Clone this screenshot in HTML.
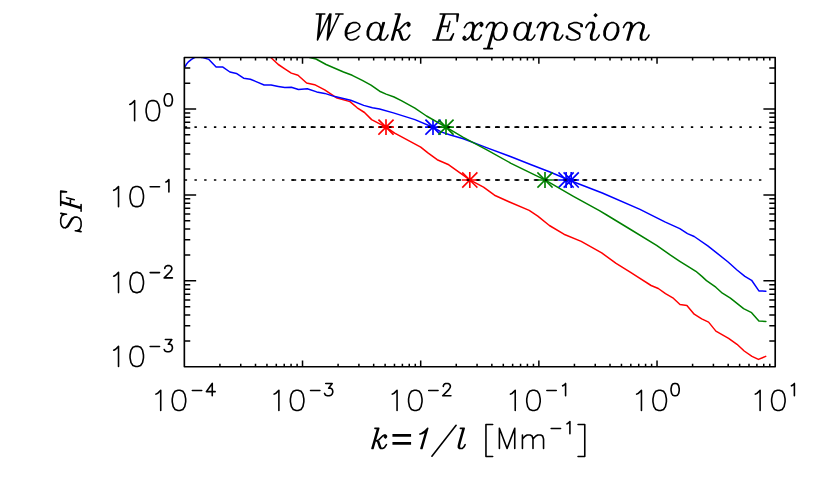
<!DOCTYPE html>
<html><head><meta charset="utf-8"><title>Weak Expansion</title>
<style>html,body{margin:0;padding:0;background:#fff;font-family:"Liberation Sans",sans-serif}svg{display:block}</style></head>
<body>
<svg width="830" height="484" viewBox="0 0 830 484">
<rect width="830" height="484" fill="#fff"/>
<defs><clipPath id="c"><rect x="184.35" y="57.45" width="590.85" height="309.3"/></clipPath></defs>
<path d="M291.3 127.15h4.9M301 127.15h4.9M310.7 127.15h4.9M320.4 127.15h4.9M330.1 127.15h4.9M339.8 127.15h4.9M349.5 127.15h4.9M359.2 127.15h4.9M368.9 127.15h4.9M378.6 127.15h4.9M388.3 127.15h4.9M398 127.15h4.9M407.7 127.15h4.9M417.4 127.15h4.9M427.1 127.15h4.9M436.8 127.15h4.9M446.5 127.15h4.9M456.2 127.15h4.9M465.9 127.15h4.9M475.6 127.15h4.9M485.3 127.15h4.9M495 127.15h4.9M504.7 127.15h4.9M514.4 127.15h4.9M524.1 127.15h4.9M533.8 127.15h4.9M543.5 127.15h4.9M553.2 127.15h4.9M562.9 127.15h4.9M572.6 127.15h4.9M582.3 127.15h4.9M592 127.15h4.9M601.7 127.15h4.9M611.4 127.15h4.9M621.1 127.15h4.9M291.3 180h4.9M301 180h4.9M310.7 180h4.9M320.4 180h4.9M330.1 180h4.9M339.8 180h4.9M349.5 180h4.9M359.2 180h4.9M368.9 180h4.9M378.6 180h4.9M388.3 180h4.9M398 180h4.9M407.7 180h4.9M417.4 180h4.9M427.1 180h4.9M436.8 180h4.9M446.5 180h4.9M456.2 180h4.9M465.9 180h4.9M475.6 180h4.9M485.3 180h4.9M495 180h4.9M504.7 180h4.9M514.4 180h4.9M524.1 180h4.9M533.8 180h4.9M543.5 180h4.9M553.2 180h4.9M562.9 180h4.9M572.6 180h4.9M582.3 180h4.9M592 180h4.9M601.7 180h4.9M611.4 180h4.9M621.1 180h4.9" fill="none" stroke="#000" stroke-width="1.6"/>
<polyline clip-path="url(#c)" fill="none" stroke="#ff0000" stroke-width="1.5" stroke-linejoin="round" stroke-linecap="round" points="270.8,57.5 278.3,64.5 284.8,68.8 291.3,73.1 298,75.3 306.6,83 314.6,84.7 324.7,89.8 336.3,97.7 350,101.6 357.2,107.8 364.5,112.5 371.6,119.6 386,127.2 394.7,133.1 420.7,147.1 427.9,152.9 437.2,159.7 448.8,164.8 469.8,179.9 483.5,187.2 494.5,195.2 508.9,201.7 529.2,210.4 537.8,216.1 549.4,225.5 563.9,234.2 581.2,241.4 601.7,252.9 616.1,263.4 630.6,272.3 637.2,276.6 651.1,285.5 658.3,288.5 665.5,293.7 672.8,297.8 680,304.5 686.9,305.4 694.2,314.2 701.7,318.9 708.6,322.1 715.9,331.1 728.6,338.3 737,344.3 744.2,351 752,356.4 758.4,359.4 765.7,356.4"/>
<path d="M386 120.05V134.25M378.9 127.15H393.1M379 120.15L393 134.15M379 134.15L393 120.15" fill="none" stroke="#ff0000" stroke-width="1.65" stroke-linecap="square"/>
<path d="M469.8 172.9V187.1M462.7 180H476.9M462.8 173L476.8 187M462.8 187L476.8 173" fill="none" stroke="#ff0000" stroke-width="1.65" stroke-linecap="square"/>
<polyline clip-path="url(#c)" fill="none" stroke="#0000ff" stroke-width="1.5" stroke-linejoin="round" stroke-linecap="round" points="184.8,67.1 186.6,64 188.7,61.6 191.5,59.3 194.5,57.6 198,56.6 201.7,57.4 208.9,59.4 216.1,66.9 222.9,67.1 229.9,72 236.4,73.4 243.6,78.2 250.4,79.2 257.3,82.1 264.1,85 271.1,85 278.3,86.4 284.8,87.6 291.3,87.3 298.5,89.5 307.3,88.7 316.7,91.9 324.7,93.4 334.8,96.6 350.7,100.2 363.7,105.4 372.4,107.8 379.6,109 393.4,112.9 414.9,119.6 433,127.2 441,131.9 449.6,134.8 463.3,138.7 487.8,148.1 511,156.8 531.2,164.8 550,172 568.7,180 602.3,193 640,209.4 651.9,215.3 665.4,222.1 679.8,228.6 687.5,233.6 694.2,236.5 707.8,245.8 728.1,262 737,270 744.9,276.4 751.6,280.3 758.9,290.9 765.9,291.2"/>
<path d="M433 120.05V134.25M425.9 127.15H440.1M426 120.15L440 134.15M426 134.15L440 120.15" fill="none" stroke="#0000ff" stroke-width="1.65" stroke-linecap="square"/>
<path d="M566.1 172.9V187.1M559 180H573.2M559.1 173L573.1 187M559.1 187L573.1 173" fill="none" stroke="#0000ff" stroke-width="1.65" stroke-linecap="square"/>
<path d="M571.2 172.9V187.1M564.1 180H578.3M564.2 173L578.2 187M564.2 187L578.2 173" fill="none" stroke="#0000ff" stroke-width="1.65" stroke-linecap="square"/>
<polyline clip-path="url(#c)" fill="none" stroke="#008000" stroke-width="1.5" stroke-linejoin="round" stroke-linecap="round" points="309.5,57.5 316,59 326.1,64.5 343.5,72 352.2,75.3 362.3,80.4 371,85.1 379.6,91.2 386.1,94.1 394.1,97 401.3,100.6 414.9,108.1 426.5,116 446,127.2 463.3,137.4 486.4,149.6 511,163.3 544.9,179.9 573.4,196.3 599.4,210.7 606.7,215 630.6,229.5 656.6,245.4 670.5,255.2 679.8,261.3 687.5,266.2 695.9,271.3 701.9,276.4 706.5,280.6 715.8,287.2 722.4,293.2 730.4,298.1 743.6,308.7 751.6,312.7 758.9,321 765.9,321.5"/>
<path d="M446 120.05V134.25M438.9 127.15H453.1M439 120.15L453 134.15M439 134.15L453 120.15" fill="none" stroke="#008000" stroke-width="1.65" stroke-linecap="square"/>
<path d="M545 172.9V187.1M537.9 180H552.1M538 173L552 187M538 187L552 173" fill="none" stroke="#008000" stroke-width="1.65" stroke-linecap="square"/>
<path d="M184.7 127.15h2.4M194.43 127.15h2.4M204.17 127.15h2.4M213.9 127.15h2.4M223.63 127.15h2.4M233.37 127.15h2.4M243.1 127.15h2.4M252.83 127.15h2.4M262.56 127.15h2.4M272.3 127.15h2.4M282.03 127.15h2.4M291.76 127.15h2.4M301.5 127.15h2.4M311.23 127.15h2.4M320.96 127.15h2.4M330.69 127.15h2.4M340.43 127.15h2.4M350.16 127.15h2.4M359.89 127.15h2.4M369.63 127.15h2.4M379.36 127.15h2.4M389.09 127.15h2.4M398.83 127.15h2.4M408.56 127.15h2.4M418.29 127.15h2.4M428.03 127.15h2.4M437.76 127.15h2.4M447.49 127.15h2.4M457.22 127.15h2.4M466.96 127.15h2.4M476.69 127.15h2.4M486.42 127.15h2.4M496.16 127.15h2.4M505.89 127.15h2.4M515.62 127.15h2.4M525.36 127.15h2.4M535.09 127.15h2.4M544.82 127.15h2.4M554.55 127.15h2.4M564.29 127.15h2.4M574.02 127.15h2.4M583.75 127.15h2.4M593.49 127.15h2.4M603.22 127.15h2.4M612.95 127.15h2.4M622.68 127.15h2.4M632.42 127.15h2.4M642.15 127.15h2.4M651.88 127.15h2.4M661.62 127.15h2.4M671.35 127.15h2.4M681.08 127.15h2.4M690.82 127.15h2.4M700.55 127.15h2.4M710.28 127.15h2.4M720.01 127.15h2.4M729.75 127.15h2.4M739.48 127.15h2.4M749.21 127.15h2.4M758.95 127.15h2.4M184.7 180h2.4M194.43 180h2.4M204.17 180h2.4M213.9 180h2.4M223.63 180h2.4M233.37 180h2.4M243.1 180h2.4M252.83 180h2.4M262.56 180h2.4M272.3 180h2.4M282.03 180h2.4M291.76 180h2.4M301.5 180h2.4M311.23 180h2.4M320.96 180h2.4M330.69 180h2.4M340.43 180h2.4M350.16 180h2.4M359.89 180h2.4M369.63 180h2.4M379.36 180h2.4M389.09 180h2.4M398.83 180h2.4M408.56 180h2.4M418.29 180h2.4M428.03 180h2.4M437.76 180h2.4M447.49 180h2.4M457.22 180h2.4M466.96 180h2.4M476.69 180h2.4M486.42 180h2.4M496.16 180h2.4M505.89 180h2.4M515.62 180h2.4M525.36 180h2.4M535.09 180h2.4M544.82 180h2.4M554.55 180h2.4M564.29 180h2.4M574.02 180h2.4M583.75 180h2.4M593.49 180h2.4M603.22 180h2.4M612.95 180h2.4M622.68 180h2.4M632.42 180h2.4M642.15 180h2.4M651.88 180h2.4M661.62 180h2.4M671.35 180h2.4M681.08 180h2.4M690.82 180h2.4M700.55 180h2.4M710.28 180h2.4M720.01 180h2.4M729.75 180h2.4M739.48 180h2.4M749.21 180h2.4M758.95 180h2.4" fill="none" stroke="#000" stroke-width="1.6"/>
<rect x="184.35" y="57.45" width="590.85" height="309.3" fill="none" stroke="#000" stroke-width="1.65" stroke-linejoin="round"/>
<path d="M219.92 366.75v-3.1M219.92 57.45v3.1M240.73 366.75v-3.1M240.73 57.45v3.1M255.5 366.75v-3.1M255.5 57.45v3.1M266.95 366.75v-3.1M266.95 57.45v3.1M276.3 366.75v-3.1M276.3 57.45v3.1M284.22 366.75v-3.1M284.22 57.45v3.1M291.07 366.75v-3.1M291.07 57.45v3.1M297.11 366.75v-3.1M297.11 57.45v3.1M302.52 366.75v-6.2M302.52 57.45v6.2M338.09 366.75v-3.1M338.09 57.45v3.1M358.9 366.75v-3.1M358.9 57.45v3.1M373.67 366.75v-3.1M373.67 57.45v3.1M385.12 366.75v-3.1M385.12 57.45v3.1M394.47 366.75v-3.1M394.47 57.45v3.1M402.39 366.75v-3.1M402.39 57.45v3.1M409.24 366.75v-3.1M409.24 57.45v3.1M415.28 366.75v-3.1M415.28 57.45v3.1M420.69 366.75v-6.2M420.69 57.45v6.2M456.26 366.75v-3.1M456.26 57.45v3.1M477.07 366.75v-3.1M477.07 57.45v3.1M491.84 366.75v-3.1M491.84 57.45v3.1M503.29 366.75v-3.1M503.29 57.45v3.1M512.64 366.75v-3.1M512.64 57.45v3.1M520.56 366.75v-3.1M520.56 57.45v3.1M527.41 366.75v-3.1M527.41 57.45v3.1M533.45 366.75v-3.1M533.45 57.45v3.1M538.86 366.75v-6.2M538.86 57.45v6.2M574.43 366.75v-3.1M574.43 57.45v3.1M595.24 366.75v-3.1M595.24 57.45v3.1M610.01 366.75v-3.1M610.01 57.45v3.1M621.46 366.75v-3.1M621.46 57.45v3.1M630.81 366.75v-3.1M630.81 57.45v3.1M638.73 366.75v-3.1M638.73 57.45v3.1M645.58 366.75v-3.1M645.58 57.45v3.1M651.62 366.75v-3.1M651.62 57.45v3.1M657.03 366.75v-6.2M657.03 57.45v6.2M692.6 366.75v-3.1M692.6 57.45v3.1M713.41 366.75v-3.1M713.41 57.45v3.1M728.18 366.75v-3.1M728.18 57.45v3.1M739.63 366.75v-3.1M739.63 57.45v3.1M748.98 366.75v-3.1M748.98 57.45v3.1M756.9 366.75v-3.1M756.9 57.45v3.1M763.75 366.75v-3.1M763.75 57.45v3.1M769.79 366.75v-3.1M769.79 57.45v3.1M184.35 340.89h5.9M775.2 340.89h-5.9M184.35 325.76h5.9M775.2 325.76h-5.9M184.35 315.02h5.9M775.2 315.02h-5.9M184.35 306.69h5.9M775.2 306.69h-5.9M184.35 299.89h5.9M775.2 299.89h-5.9M184.35 294.14h5.9M775.2 294.14h-5.9M184.35 289.16h5.9M775.2 289.16h-5.9M184.35 284.76h5.9M775.2 284.76h-5.9M184.35 280.83h11.8M775.2 280.83h-11.8M184.35 254.97h5.9M775.2 254.97h-5.9M184.35 239.84h5.9M775.2 239.84h-5.9M184.35 229.1h5.9M775.2 229.1h-5.9M184.35 220.77h5.9M775.2 220.77h-5.9M184.35 213.97h5.9M775.2 213.97h-5.9M184.35 208.22h5.9M775.2 208.22h-5.9M184.35 203.24h5.9M775.2 203.24h-5.9M184.35 198.84h5.9M775.2 198.84h-5.9M184.35 194.91h11.8M775.2 194.91h-11.8M184.35 169.05h5.9M775.2 169.05h-5.9M184.35 153.92h5.9M775.2 153.92h-5.9M184.35 143.18h5.9M775.2 143.18h-5.9M184.35 134.85h5.9M775.2 134.85h-5.9M184.35 128.05h5.9M775.2 128.05h-5.9M184.35 122.3h5.9M775.2 122.3h-5.9M184.35 117.32h5.9M775.2 117.32h-5.9M184.35 112.92h5.9M775.2 112.92h-5.9M184.35 108.99h11.8M775.2 108.99h-11.8M184.35 83.13h5.9M775.2 83.13h-5.9M184.35 68h5.9M775.2 68h-5.9" fill="none" stroke="#000" stroke-width="1.5"/>
<path d="M129.81 104.42 131.73 103.46 134.61 100.58 134.61 120.74M151.89 100.58 149.01 101.54 147.09 104.42 146.13 109.22 146.13 112.1 147.09 116.9 149.01 119.78 151.89 120.74 153.81 120.74 156.69 119.78 158.61 116.9 159.57 112.1 159.57 109.22 158.61 104.42 156.69 101.54 153.81 100.58 151.89 100.58M167.71 93.76 165.96 94.34 164.79 96.09 164.2 99.02 164.2 100.78 164.79 103.7 165.96 105.46 167.71 106.04 168.88 106.04 170.64 105.46 171.81 103.7 172.39 100.78 172.39 99.02 171.81 96.09 170.64 94.34 168.88 93.76 167.71 93.76M113.72 190.34 115.64 189.38 118.52 186.5 118.52 206.66M135.8 186.5 132.92 187.46 131 190.34 130.04 195.14 130.04 198.02 131 202.82 132.92 205.7 135.8 206.66 137.72 206.66 140.6 205.7 142.52 202.82 143.48 198.02 143.48 195.14 142.52 190.34 140.6 187.46 137.72 186.5 135.8 186.5M150.17 186.7 159.53 186.7M165.96 182.02 167.13 181.43 168.89 179.68 168.89 191.96M113.72 276.26 115.64 275.3 118.52 272.42 118.52 292.58M135.8 272.42 132.92 273.38 131 276.26 130.04 281.06 130.04 283.94 131 288.74 132.92 291.62 135.8 292.58 137.72 292.58 140.6 291.62 142.52 288.74 143.48 283.94 143.48 281.06 142.52 276.26 140.6 273.38 137.72 272.42 135.8 272.42M150.17 272.62 159.53 272.62M164.79 268.52 164.79 267.94 165.38 266.76 165.96 266.18 167.13 265.59 169.47 265.59 170.64 266.18 171.23 266.76 171.81 267.94 171.81 269.11 171.23 270.27 170.06 272.03 164.21 277.88 172.4 277.88M113.72 350.18 115.64 349.22 118.52 346.34 118.52 366.5M135.8 346.34 132.92 347.3 131 350.18 130.04 354.98 130.04 357.86 131 362.66 132.92 365.54 135.8 366.5 137.72 366.5 140.6 365.54 142.52 362.66 143.48 357.86 143.48 354.98 142.52 350.18 140.6 347.3 137.72 346.34 135.8 346.34M150.17 346.54 159.53 346.54M165.38 339.51 171.81 339.51 168.3 344.19 170.06 344.19 171.23 344.78 171.81 345.37 172.4 347.12 172.4 348.29 171.81 350.05 170.64 351.22 168.89 351.8 167.13 351.8 165.38 351.22 164.79 350.63 164.21 349.46M155.92 394.13 157.84 393.17 160.72 390.29 160.72 410.45M178 390.29 175.12 391.25 173.2 394.13 172.24 398.93 172.24 401.81 173.2 406.61 175.12 409.49 178 410.45 179.92 410.45 182.8 409.49 184.72 406.61 185.68 401.81 185.68 398.93 184.72 394.13 182.8 391.25 179.92 390.29 178 390.29M192.36 390.49 201.72 390.49M212.25 383.46 206.4 391.65 215.17 391.65M212.25 383.46 212.25 395.75M274.09 394.13 276.01 393.17 278.89 390.29 278.89 410.45M296.17 390.29 293.29 391.25 291.37 394.13 290.41 398.93 290.41 401.81 291.37 406.61 293.29 409.49 296.17 410.45 298.09 410.45 300.97 409.49 302.89 406.61 303.85 401.81 303.85 398.93 302.89 394.13 300.97 391.25 298.09 390.29 296.17 390.29M310.53 390.49 319.89 390.49M325.74 383.46 332.17 383.46 328.66 388.14 330.42 388.14 331.59 388.73 332.17 389.31 332.76 391.07 332.76 392.24 332.17 394 331 395.17 329.25 395.75 327.49 395.75 325.74 395.17 325.15 394.58 324.57 393.41M392.26 394.13 394.18 393.17 397.06 390.29 397.06 410.45M414.34 390.29 411.46 391.25 409.54 394.13 408.58 398.93 408.58 401.81 409.54 406.61 411.46 409.49 414.34 410.45 416.26 410.45 419.14 409.49 421.06 406.61 422.02 401.81 422.02 398.93 421.06 394.13 419.14 391.25 416.26 390.29 414.34 390.29M428.7 390.49 438.06 390.49M443.32 386.39 443.32 385.81 443.91 384.63 444.49 384.05 445.66 383.46 448 383.46 449.17 384.05 449.76 384.63 450.34 385.81 450.34 386.98 449.76 388.14 448.59 389.9 442.74 395.75 450.93 395.75M510.43 394.13 512.35 393.17 515.23 390.29 515.23 410.45M532.51 390.29 529.63 391.25 527.71 394.13 526.75 398.93 526.75 401.81 527.71 406.61 529.63 409.49 532.51 410.45 534.43 410.45 537.31 409.49 539.23 406.61 540.19 401.81 540.19 398.93 539.23 394.13 537.31 391.25 534.43 390.29 532.51 390.29M546.87 390.49 556.23 390.49M562.66 385.81 563.83 385.22 565.59 383.46 565.59 395.75M636.64 394.13 638.56 393.17 641.44 390.29 641.44 410.45M658.72 390.29 655.84 391.25 653.92 394.13 652.96 398.93 652.96 401.81 653.92 406.61 655.84 409.49 658.72 410.45 660.64 410.45 663.52 409.49 665.44 406.61 666.4 401.81 666.4 398.93 665.44 394.13 663.52 391.25 660.64 390.29 658.72 390.29M674.55 383.46 672.79 384.05 671.62 385.81 671.04 388.73 671.04 390.49 671.62 393.41 672.79 395.17 674.55 395.75 675.72 395.75 677.47 395.17 678.64 393.41 679.23 390.49 679.23 388.73 678.64 385.81 677.47 384.05 675.72 383.46 674.55 383.46M755.31 394.13 757.23 393.17 760.11 390.29 760.11 410.45M777.39 390.29 774.51 391.25 772.59 394.13 771.63 398.93 771.63 401.81 772.59 406.61 774.51 409.49 777.39 410.45 779.31 410.45 782.19 409.49 784.11 406.61 785.07 401.81 785.07 398.93 784.11 394.13 782.19 391.25 779.31 390.29 777.39 390.29M791.46 385.81 792.63 385.22 794.39 383.46 794.39 395.75M377.77 428.34 372.01 448.5M378.73 428.34 372.97 448.5M385.45 436.02 384.49 436.98 385.45 437.94 386.41 436.98 386.41 436.02 385.45 435.06 384.49 435.06 382.57 436.02 378.73 439.86 376.81 440.82 374.89 440.82M376.81 440.82 378.73 441.78 380.65 447.54 381.61 448.5M376.81 440.82 377.77 441.78 379.69 447.54 380.65 448.5 382.57 448.5 384.49 447.54 386.41 444.66M374.89 428.34 378.73 428.34M425.77 432.18 420.97 448.5M427.69 428.34 421.93 448.5M427.69 428.34 424.81 431.22 421.93 433.14 420.01 434.1M426.73 431.22 422.89 433.14 420.01 434.1M456.1 425.27 431.91 456.18M463.21 428.34 459.37 441.78 458.41 445.62 458.41 447.54 459.37 448.5 462.25 448.5 464.17 446.58 465.13 444.66M464.17 428.34 460.33 441.78 459.37 445.62 459.37 447.54 460.33 448.5M460.33 428.34 464.17 428.34M492.67 424.5 485.95 424.5 485.95 456.47 492.67 456.47M499.39 428.34 499.39 448.5M499.39 428.34 507.07 448.5M514.75 428.34 507.07 448.5M514.75 428.34 514.75 448.5M522.43 435.06 522.43 448.5M522.43 438.9 525.31 436.02 527.23 435.06 530.11 435.06 532.03 436.02 532.99 438.9 532.99 448.5M532.99 438.9 535.87 436.02 537.79 435.06 540.67 435.06 542.59 436.02 543.55 438.9 543.55 448.5M551.19 428.54 560.55 428.54M566.98 423.86 568.15 423.27 569.91 421.51 569.91 433.8M578.05 424.5 584.77 424.5 584.77 456.47 578.05 456.47" fill="none" stroke="#000" stroke-width="1.6" stroke-linecap="round" stroke-linejoin="round"/>
<path d="M392.45 435.44H411.08M392.45 443.32H411.08" fill="none" stroke="#000" stroke-width="2.8"/>
<path d="M319.95 14 317.52 40M321.17 14 318.74 37.52M329.66 14 317.52 40M329.66 14 327.24 40M330.88 14 328.45 37.52M339.38 14 327.24 40M316.31 14 324.81 14M335.73 14 343.02 14M346.66 33.81 351.52 32.57 355.16 31.33 358.8 28.86 360.01 26.38 358.8 23.9 356.37 22.66 352.73 22.66 349.09 23.9 346.66 27.62 345.45 31.33 345.45 35.05 346.66 37.52 347.87 38.76 350.3 40 352.73 40 356.37 38.76 358.8 36.29M352.73 22.66 350.3 23.9 347.87 27.62 346.66 31.33 346.66 36.29 347.87 38.76M383.08 22.66 380.65 31.33 379.44 36.29 379.44 38.76 380.65 40 384.29 40 386.72 37.52 387.94 35.05M384.29 22.66 381.87 31.33 380.65 36.29 380.65 38.76 381.87 40M380.65 31.33 380.65 27.62 379.44 23.9 377.01 22.66 374.58 22.66 370.94 23.9 368.51 27.62 367.3 31.33 367.3 35.05 368.51 37.52 369.73 38.76 372.15 40 374.58 40 377.01 38.76 379.44 35.05 380.65 31.33M374.58 22.66 372.15 23.9 369.73 27.62 368.51 31.33 368.51 36.29 369.73 38.76M398.86 14 391.58 40M400.08 14 392.79 40M408.57 23.9 407.36 25.14 408.57 26.38 409.79 25.14 409.79 23.9 408.57 22.66 407.36 22.66 404.93 23.9 400.08 28.86 397.65 30.09 395.22 30.09M397.65 30.09 400.08 31.33 402.5 38.76 403.72 40M397.65 30.09 398.86 31.33 401.29 38.76 402.5 40 404.93 40 407.36 38.76 409.79 35.05M395.22 14 400.08 14M443.78 14 436.5 40M444.99 14 437.71 40M449.85 21.43 447.42 31.33M440.14 14 458.35 14 457.13 21.43 457.13 14M441.35 26.38 448.64 26.38M432.85 40 451.06 40 453.49 33.81 449.85 40M464.42 27.62 466.85 23.9 469.27 22.66 472.92 22.66 474.13 25.14 474.13 28.86M471.7 22.66 472.92 25.14 472.92 28.86 471.7 33.81 470.49 36.29 468.06 38.76 465.63 40 464.42 40 463.2 38.76 463.2 37.52 464.42 36.29 465.63 37.52 464.42 38.76M471.7 33.81 471.7 37.52 472.92 40 476.56 40 478.99 38.76 481.41 35.05M481.41 23.9 480.2 25.14 481.41 26.38 482.63 25.14 482.63 23.9 481.41 22.66 480.2 22.66 477.77 23.9 475.34 26.38 474.13 28.86 472.92 33.81 472.92 37.52 474.13 40M486.27 27.62 487.48 25.14 489.91 22.66 493.55 22.66 494.77 23.9 494.77 26.38 493.55 31.33 488.7 48.67M492.34 22.66 493.55 23.9 493.55 26.38 492.34 31.33 487.48 48.67M493.55 31.33 494.77 27.62 497.2 23.9 499.62 22.66 502.05 22.66 504.48 23.9 505.69 25.14 506.91 27.62 506.91 31.33 505.69 35.05 503.27 38.76 499.62 40 497.2 40 494.77 38.76 493.55 35.05 493.55 31.33M504.48 23.9 505.69 26.38 505.69 31.33 504.48 35.05 502.05 38.76 499.62 40M483.84 48.67 492.34 48.67M529.97 22.66 527.55 31.33 526.33 36.29 526.33 38.76 527.55 40 531.19 40 533.62 37.52 534.83 35.05M531.19 22.66 528.76 31.33 527.55 36.29 527.55 38.76 528.76 40M527.55 31.33 527.55 27.62 526.33 23.9 523.9 22.66 521.48 22.66 517.83 23.9 515.41 27.62 514.19 31.33 514.19 35.05 515.41 37.52 516.62 38.76 519.05 40 521.48 40 523.9 38.76 526.33 35.05 527.55 31.33M521.48 22.66 519.05 23.9 516.62 27.62 515.41 31.33 515.41 36.29 516.62 38.76M537.26 27.62 538.47 25.14 540.9 22.66 544.54 22.66 545.76 23.9 545.76 26.38 544.54 31.33 542.11 40M543.33 22.66 544.54 23.9 544.54 26.38 543.33 31.33 540.9 40M544.54 31.33 546.97 26.38 549.4 23.9 551.83 22.66 554.25 22.66 556.68 23.9 557.9 25.14 557.9 27.62 555.47 35.05 555.47 38.76 556.68 40M554.25 22.66 556.68 25.14 556.68 27.62 554.25 35.05 554.25 38.76 555.47 40 559.11 40 561.54 37.52 562.75 35.05M580.96 25.14 580.96 26.38 582.18 26.38 582.18 25.14 580.96 23.9 577.32 22.66 573.68 22.66 570.04 23.9 568.82 25.14 568.82 27.62 570.04 28.86 578.53 33.81 579.75 35.05M568.82 26.38 570.04 27.62 578.53 32.57 579.75 33.81 579.75 37.52 578.53 38.76 574.89 40 571.25 40 567.61 38.76 566.39 37.52 566.39 36.29 567.61 36.29 567.61 37.52M595.53 14 594.32 15.23 595.53 16.47 596.74 15.23 595.53 14M585.82 27.62 587.03 25.14 589.46 22.66 593.1 22.66 594.32 23.9 594.32 27.62 591.89 35.05 591.89 38.76 593.1 40M591.89 22.66 593.1 23.9 593.1 27.62 590.67 35.05 590.67 38.76 591.89 40 595.53 40 597.96 37.52 599.17 35.05M611.31 22.66 607.67 23.9 605.24 27.62 604.03 31.33 604.03 35.05 605.24 37.52 606.46 38.76 608.88 40 611.31 40 614.95 38.76 617.38 35.05 618.6 31.33 618.6 27.62 617.38 25.14 616.17 23.9 613.74 22.66 611.31 22.66M611.31 22.66 608.88 23.9 606.46 27.62 605.24 31.33 605.24 36.29 606.46 38.76M611.31 40 613.74 38.76 616.17 35.05 617.38 31.33 617.38 26.38 616.17 23.9M623.45 27.62 624.67 25.14 627.09 22.66 630.74 22.66 631.95 23.9 631.95 26.38 630.74 31.33 628.31 40M629.52 22.66 630.74 23.9 630.74 26.38 629.52 31.33 627.09 40M630.74 31.33 633.16 26.38 635.59 23.9 638.02 22.66 640.45 22.66 642.88 23.9 644.09 25.14 644.09 27.62 641.66 35.05 641.66 38.76 642.88 40M640.45 22.66 642.88 25.14 642.88 27.62 640.45 35.05 640.45 38.76 641.66 40 645.3 40 647.73 37.52 648.95 35.05" fill="none" stroke="#000" stroke-width="1.6" stroke-linecap="round" stroke-linejoin="round"/>
<path transform="translate(81.1 211.8) rotate(-90) scale(1.012)" d="M-3.36 -18.24 -2.4 -18.24 -1.44 -20.16 -2.4 -14.4 -2.4 -16.32 -3.36 -18.24 -4.32 -19.2 -7.2 -20.16 -11.04 -20.16 -13.92 -19.2 -15.84 -17.28 -15.84 -15.36 -14.88 -13.44 -13.92 -12.48 -7.2 -8.64 -5.28 -6.72M-15.84 -15.36 -13.92 -13.44 -7.2 -9.6 -6.24 -8.64 -5.28 -6.72 -5.28 -3.84 -6.24 -1.92 -7.2 -0.96 -10.08 0 -13.92 0 -16.8 -0.96 -17.76 -1.92 -18.72 -3.84 -18.72 -5.76 -19.68 0 -18.72 -1.92 -17.76 -1.92M9.12 -20.16 3.36 0M10.08 -20.16 4.32 0M13.92 -14.4 12 -6.72M6.24 -20.16 20.64 -20.16 19.68 -14.4 19.68 -20.16M7.2 -10.56 12.96 -10.56M0.48 0 7.2 0" fill="none" stroke="#000" stroke-width="1.55" stroke-linecap="round" stroke-linejoin="round"/>
</svg>
</body></html>
